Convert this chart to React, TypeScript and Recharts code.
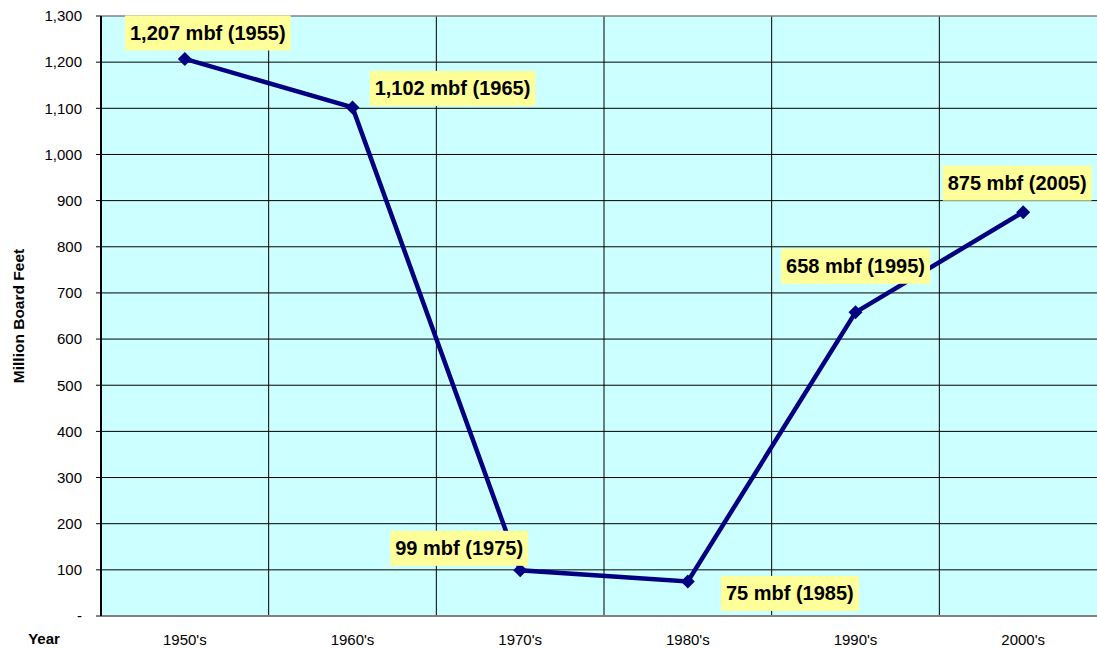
import { LineChart, Line, XAxis, YAxis, CartesianGrid, ReferenceLine, LabelList } from 'recharts';

const decades = ["1950's", "1960's", "1970's", "1980's", "1990's", "2000's"];
const years = [1955, 1965, 1975, 1985, 1995, 2005];
const harvest = [1207, 1102, 99, 75, 658, 875];
const yTicks = [0, 100, 200, 300, 400, 500, 600, 700, 800, 900, 1000, 1100, 1200, 1300];

// label box offsets from each point (dx, dy of box centre)
const labelOffsets = [
  [23, -26],
  [100, -19],
  [-61, -22],
  [102, 12],
  [0, -46],
  [-6, -29],
];

const data = decades.map((d, i) => ({
  x: i + 0.5,
  decade: d,
  year: years[i],
  value: harvest[i],
}));

const FONT = 'Arial, "Liberation Sans", sans-serif';

const fmt = (v: number) => (v === 0 ? '-' : v.toLocaleString('en-US'));

const charW: Record<string, number> = { ',': 0.278, ' ': 0.278, m: 0.889, b: 0.611, f: 0.333, '(': 0.333, ')': 0.333 };
const textWidth = (s: string, size: number) =>
  s.split('').reduce((w, c) => w + (charW[c] ?? 0.556), 0) * size;

const Diamond = (props: any) => {
  const { cx, cy } = props;
  if (cx == null || cy == null) return null;
  const r = 7;
  return (
    <polygon
      points={`${cx},${cy - r} ${cx + r},${cy} ${cx},${cy + r} ${cx - r},${cy}`}
      fill="#000080"
    />
  );
};

const DataLabel = (props: any) => {
  const { x, y, index } = props;
  const d = data[index];
  const text = `${fmt(d.value)} mbf (${d.year})`;
  const size = 20;
  const w = textWidth(text, size) + 10;
  const h = 35;
  const [dx, dy] = labelOffsets[index];
  const cx = x + dx;
  const cy = y + dy;
  return (
    <g>
      <rect x={cx - w / 2} y={cy - h / 2} width={w} height={h} fill="#FFFF99" />
      <text
        x={cx}
        y={cy}
        textAnchor="middle"
        dominantBaseline="central"
        fontFamily={FONT}
        fontWeight="bold"
        fontSize={size}
        fill="#000"
      >
        {text}
      </text>
    </g>
  );
};

export default function App() {
  return (
    <div style={{ position: 'fixed', left: 0, top: 0, width: 1097, height: 648, overflow: 'hidden', background: '#fff' }}>
      <LineChart
        width={1108}
        height={648}
        data={data}
        margin={{ top: 16, right: 1, left: 0, bottom: 0 }}
      >
        <CartesianGrid
          fill="#CCFFFF"
          stroke="#000"
          strokeWidth={1}
          vertical={false}
          horizontalValues={yTicks.slice(1, -1)}
        />
        {[1, 2, 3, 4, 5].map((v) => (
          <ReferenceLine key={v} x={v} stroke="#000" strokeWidth={1} ifOverflow="extendDomain" />
        ))}
        <ReferenceLine y={1300} stroke="#808080" strokeWidth={1.5} />
        <XAxis
          dataKey="x"
          type="number"
          domain={[0, 6]}
          ticks={data.map((d) => d.x)}
          tickFormatter={(v: number) => decades[Math.floor(v)]}
          height={32}
          tickSize={0}
          tickMargin={18}
          axisLine={{ stroke: '#808080', strokeWidth: 2 }}
          tick={{ fill: '#000', fontSize: 15, fontFamily: FONT }}
          interval={0}
          label={{
            content: () => (
              <text x={44} y={644} textAnchor="middle" fontFamily={FONT} fontWeight="bold" fontSize={15} fill="#000">
                Year
              </text>
            ),
          }}
        />
        <YAxis
          type="number"
          domain={[0, 1300]}
          ticks={yTicks}
          tickFormatter={fmt}
          width={101}
          tickSize={5}
          tickMargin={14}
          interval={0}
          axisLine={{ stroke: '#000', strokeWidth: 2 }}
          tickLine={{ stroke: '#000' }}
          tick={{ fill: '#000', fontSize: 15, fontFamily: FONT }}
          label={{
            content: () => (
              <text
                x={18}
                y={316}
                transform="rotate(-90 18 316)"
                textAnchor="middle"
                dominantBaseline="central"
                fontFamily={FONT}
                fontWeight="bold"
                fontSize={15.5}
                fill="#000"
              >
                Million Board Feet
              </text>
            ),
          }}
        />
        <Line
          dataKey="value"
          stroke="#000080"
          strokeWidth={4.5}
          dot={<Diamond />}
          activeDot={false}
          isAnimationActive={false}
        >
          <LabelList dataKey="value" content={<DataLabel />} />
        </Line>
      </LineChart>
    </div>
  );
}
